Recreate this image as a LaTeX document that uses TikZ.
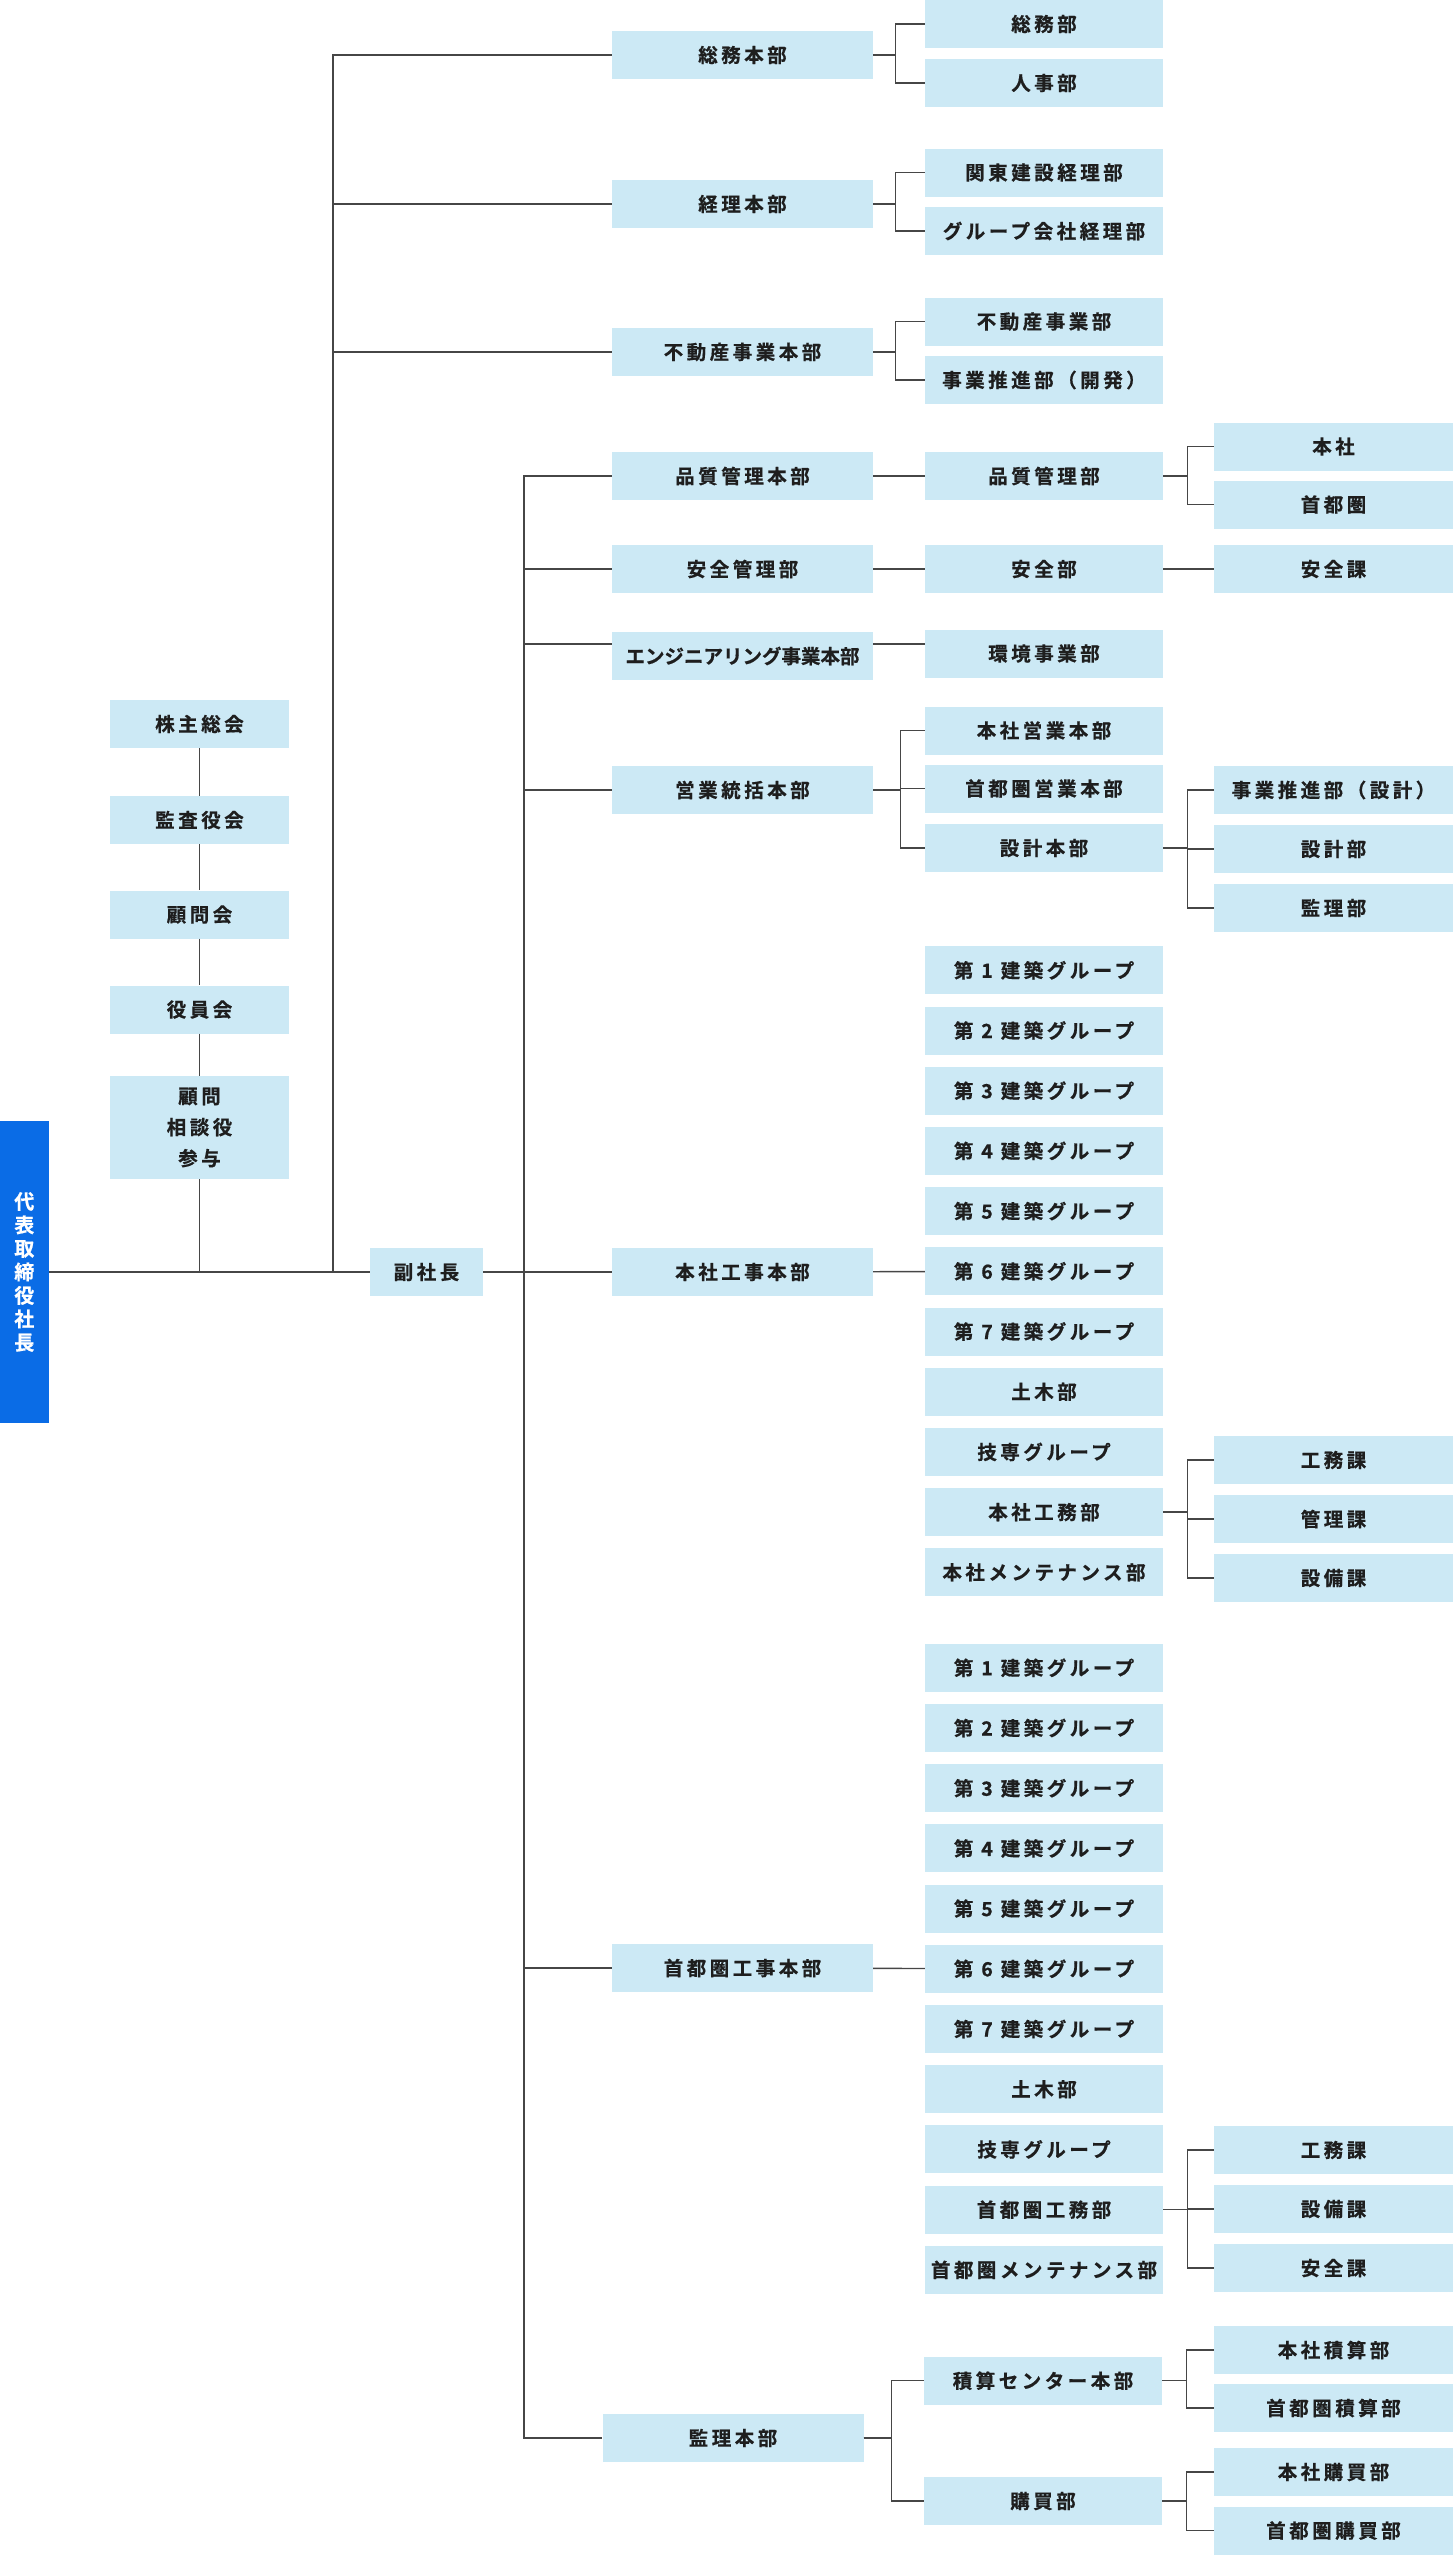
\documentclass[tikz,border=0pt]{standalone}
\usepackage{fontspec}
\setmainfont{Noto Sans CJK JP}[BoldFont={Noto Sans CJK JP Bold}]
\newfontfamily\orgfont{Noto Sans CJK JP Bold}[LetterSpace=18,FakeBold=0.6]
\newfontfamily\orgtight{Noto Sans CJK JP Bold}[FakeBold=0.6]
\usetikzlibrary{positioning}

\definecolor{boxblue}{RGB}{204,233,245}
\definecolor{ceoblue}{RGB}{10,108,230}
\definecolor{linegray}{RGB}{70,70,70}
\definecolor{inkgray}{RGB}{30,30,30}

\tikzset{
  unit/.style={fill=boxblue, inner sep=0pt, minimum height=48pt, text=inkgray,
    font=\orgfont\fontsize{19.5}{23}\selectfont, align=center},
  colL/.style={unit, minimum width=179pt},
  colA/.style={unit, minimum width=261pt},
  colB/.style={unit, minimum width=238pt},
  colC/.style={unit, minimum width=239pt},
  link/.style={draw=linegray, line width=1.4pt},
}

\begin{document}
\begin{tikzpicture}[x=1pt,y=-1pt]
\useasboundingbox (0,0) rectangle (1453,2560);

% top of the company
\node[fill=ceoblue, text=white, inner sep=0pt, minimum width=48.6pt, minimum height=302pt,
  font=\orgtight\fontsize{20}{23.5}\selectfont, align=center]
  (ceo) at (24.3,1272) {代\\表\\取\\締\\役\\社\\長};
\node[unit, minimum width=113pt] (vp) at (426.5,1272) {副社長};

% advisory column
\node[colL] (kabunushi) at (199.5,724) {株主総会};
\node[colL] (kansayaku) at (199.5,820) {監査役会};
\node[colL] (komonkai) at (199.5,914.5) {顧問会};
\node[colL] (yakuinkai) at (199.5,1009.5) {役員会};
\node[colL, minimum height=103pt, font=\orgfont\fontsize{19.5}{31}\selectfont]
  (komon) at (199.5,1127.5) {顧問\\相談役\\参与};

\draw[link] (kabunushi) -- (kansayaku);
\draw[link] (kansayaku) -- (komonkai);
\draw[link] (komonkai) -- (yakuinkai);
\draw[link] (yakuinkai) -- (komon);
\draw[link] (ceo.east) -- (vp.west);
\draw[link] (komon.south) -- (komon.south |- ceo.east);

% divisions under the president
\node[colA] (soumu) at (742.5,55) {総務本部};
\node[colA] (keiri) at (742.5,204) {経理本部};
\node[colA] (fudosan) at (742.5,352) {不動産事業本部};

\node[colB] (soumubu) at (1044,24) {総務部};
\node[colB] (jinjibu) at (1044,83) {人事部};
\node[colB] (kantokeiri) at (1044,172.5) {関東建設経理部};
\node[colB] (groupkeiri) at (1044,231) {グループ会社経理部};
\node[colB] (fudosanbu) at (1044,321.5) {不動産事業部};
\node[colB] (kaihatsu) at (1044,380) {事業推進部（開発）};

\coordinate (spineceo) at (333,1272);
\foreach \d in {soumu,keiri,fudosan}
  \draw[link] (spineceo) |- (\d.west);
\foreach \c in {soumubu,jinjibu}
  \draw[link] (soumu.east) -- ++(22,0) |- (\c.west);
\foreach \c in {kantokeiri,groupkeiri}
  \draw[link] (keiri.east) -- ++(22,0) |- (\c.west);
\foreach \c in {fudosanbu,kaihatsu}
  \draw[link] (fudosan.east) -- ++(22,0) |- (\c.west);

% divisions under the vice president
\node[colA] (hinshitsu) at (742.5,476) {品質管理本部};
\node[colA] (anzen) at (742.5,569) {安全管理部};
\node[colA, font=\orgtight\fontsize{19.5}{23}\selectfont] (eng) at (742.5,656) {エンジニアリング事業本部};
\node[colA] (eigyo) at (742.5,790) {営業統括本部};
\node[colA] (honshako) at (742.5,1272) {本社工事本部};
\node[colA] (shutoko) at (742.5,1968) {首都圏工事本部};
\node[colA] (kanri) at (733,2438) {監理本部};

\coordinate (spinevp) at (524,1272);
\draw[link] (vp.east) -- (spinevp);
\foreach \d in {hinshitsu,anzen,eigyo,honshako,shutoko,kanri}
  \draw[link] (spinevp) |- (\d.west);
\draw[link] (spinevp) |- ([yshift=12pt]eng.west);

% quality and safety
\node[colB] (hinshitsubu) at (1044,476) {品質管理部};
\node[colC] (qhonsha) at (1333.5,446.5) {本社};
\node[colC] (qshuto) at (1333.5,504.5) {首都圏};
\node[colB] (anzenbu) at (1044,569) {安全部};
\node[colC] (anzenka) at (1333.5,569) {安全課};
\node[colB] (kankyo) at (1044,653.5) {環境事業部};

\draw[link] (hinshitsu) -- (hinshitsubu);
\foreach \c in {qhonsha,qshuto}
  \draw[link] (hinshitsubu.east) -- ++(24,0) |- (\c.west);
\draw[link] (anzen) -- (anzenbu);
\draw[link] (anzenbu) -- (anzenka);
\draw[link] ([yshift=12pt]eng.east) -- ([yshift=12pt]eng.east -| kankyo.west);

% sales
\node[colB] (honshaeigyo) at (1044,730.5) {本社営業本部};
\node[colB] (shutoeigyo) at (1044,788.5) {首都圏営業本部};
\node[colB] (sekkeihonbu) at (1044,848) {設計本部};
\node[colC] (suishin) at (1333.5,790) {事業推進部（設計）};
\node[colC] (sekkeibu) at (1333.5,849) {設計部};
\node[colC] (kanribu) at (1333.5,908) {監理部};

\foreach \c in {honshaeigyo,shutoeigyo,sekkeihonbu}
  \draw[link] (eigyo.east) -- ++(27,0) |- (\c.west);
\foreach \c in {suishin,sekkeibu,kanribu}
  \draw[link] (sekkeihonbu.east) -- ++(24,0) |- (\c.west);

% construction, head office
\foreach \lbl [count=\i] in {第 1 建築グループ,第 2 建築グループ,第 3 建築グループ,
    第 4 建築グループ,第 5 建築グループ,第 6 建築グループ,第 7 建築グループ,
    土木部,技専グループ,本社工務部,本社メンテナンス部}
  \node[colB] (hq\i) at (1044,{970.3+60.2*(\i-1)}) {\lbl};
\node[colC] (hqkoumu) at (1333.5,1460) {工務課};
\node[colC] (hqkanri) at (1333.5,1519) {管理課};
\node[colC] (hqsetsubi) at (1333.5,1578) {設備課};

\draw[link] (honshako) -- (hq6);
\foreach \c in {hqkoumu,hqkanri,hqsetsubi}
  \draw[link] (hq10.east) -- ++(24,0) |- (\c.west);

% construction, metropolitan area
\foreach \lbl [count=\i] in {第 1 建築グループ,第 2 建築グループ,第 3 建築グループ,
    第 4 建築グループ,第 5 建築グループ,第 6 建築グループ,第 7 建築グループ,
    土木部,技専グループ,首都圏工務部,首都圏メンテナンス部}
  \node[colB] (met\i) at (1044,{1667.8+60.2*(\i-1)}) {\lbl};
\node[colC] (metkoumu) at (1333.5,2150) {工務課};
\node[colC] (metsetsubi) at (1333.5,2209) {設備課};
\node[colC] (metanzen) at (1333.5,2268) {安全課};

\draw[link] (shutoko) -- (met6);
\foreach \c in {metkoumu,metsetsubi,metanzen}
  \draw[link] (met10.east) -- ++(24,0) |- (\c.west);

% estimating and purchasing
\node[colB] (sekisan) at (1043,2380.7) {積算センター本部};
\node[colB] (kobai) at (1043,2501) {購買部};
\node[colC] (sekisanhq) at (1333.5,2350) {本社積算部};
\node[colC] (sekisanmet) at (1333.5,2408) {首都圏積算部};
\node[colC] (kobaihq) at (1333.5,2472) {本社購買部};
\node[colC] (kobaimet) at (1333.5,2530.5) {首都圏購買部};

\foreach \c in {sekisan,kobai}
  \draw[link] (kanri.east) -- ++(27.5,0) |- (\c.west);
\foreach \c in {sekisanhq,sekisanmet}
  \draw[link] (sekisan.east) -- ++(24,0) |- (\c.west);
\foreach \c in {kobaihq,kobaimet}
  \draw[link] (kobai.east) -- ++(24,0) |- (\c.west);

\end{tikzpicture}
\end{document}
